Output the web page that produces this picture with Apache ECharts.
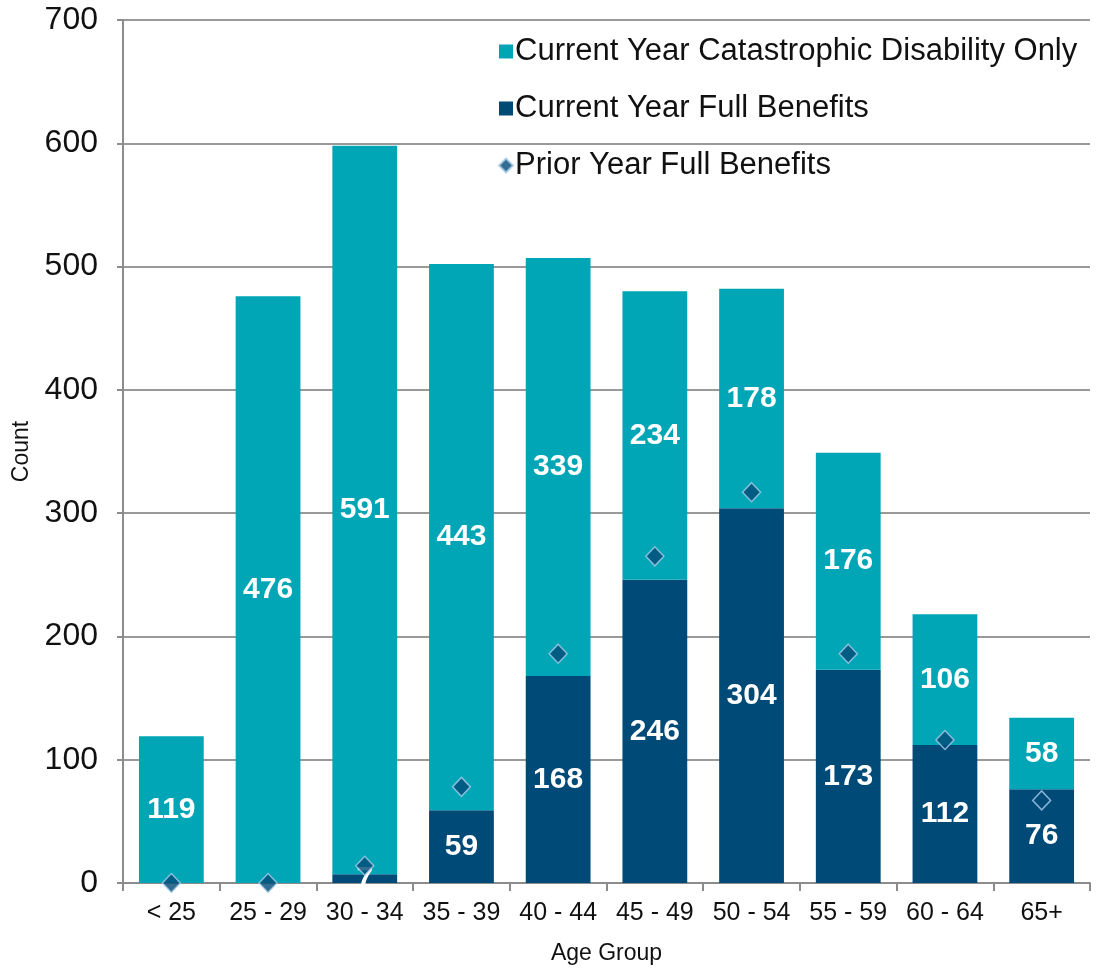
<!DOCTYPE html>
<html>
<head>
<meta charset="utf-8">
<script src="https://cdn.jsdelivr.net/npm/echarts@6/dist/echarts.min.js"></script>
<style>
  html, body { margin: 0; padding: 0; background: #fff; }
  #chart { width: 1099px; height: 970px; }
</style>
</head>
<body>
<div id="chart"></div>
<script>
// Age groups along the x axis
const ageGroups = ['< 25', '25 - 29', '30 - 34', '35 - 39', '40 - 44', '45 - 49', '50 - 54', '55 - 59', '60 - 64', '65+'];
// Current year counts, split by benefit type (stacked)
const fullBenefits = [0, 0, 7, 59, 168, 246, 304, 173, 112, 76];
const catastrophicOnly = [119, 476, 591, 443, 339, 234, 178, 176, 106, 58];
// Prior year full-benefit counts (diamond markers)
const priorFullBenefits = [0, 0, 14, 78, 186, 265, 317, 186, 116, 67];
// Y axis range
const yTicks = { min: 0, max: 700, interval: 100 };

const TEAL = '#00A6B6';
const NAVY = '#004A77';
const FONT = 'Liberation Sans, Arial, sans-serif';

const chart = echarts.init(document.getElementById('chart'), null, { renderer: 'canvas' });

const valueLabel = {
  show: true,
  position: 'inside',
  color: '#fff',
  fontFamily: FONT,
  fontWeight: 'bold',
  fontSize: 30,
  formatter: p => (p.value === 0 ? '' : String(p.value))
};

chart.setOption({
  animation: false,
  textStyle: { fontFamily: FONT },
  grid: { left: 123, right: 9, top: 20, bottom: 87, containLabel: false },
  legend: {
    orient: 'vertical',
    left: 493,
    top: 31,
    itemGap: 26,
    itemWidth: 14,
    itemHeight: 14,
    textStyle: { fontSize: 31, color: '#111', fontFamily: FONT, padding: [0, 0, 0, -3] },
    data: [
      { name: 'Current Year Catastrophic Disability Only', icon: 'rect' },
      { name: 'Current Year Full Benefits', icon: 'rect' },
      { name: 'Prior Year Full Benefits', icon: 'diamond' }
    ]
  },
  xAxis: {
    type: 'category',
    data: ageGroups,
    name: 'Age Group',
    nameLocation: 'middle',
    nameGap: 59,
    nameTextStyle: { fontSize: 23, color: '#111', fontFamily: FONT },
    axisLine: { lineStyle: { color: '#8c8c8c', width: 2 } },
    axisTick: { show: true, alignWithLabel: false, length: 8, lineStyle: { color: '#8c8c8c', width: 2 } },
    axisLabel: { fontSize: 25, color: '#111', margin: 18, fontFamily: FONT, interval: 0 }
  },
  yAxis: {
    type: 'value',
    min: yTicks.min,
    max: yTicks.max,
    interval: yTicks.interval,
    name: 'Count',
    nameLocation: 'middle',
    nameGap: 90,
    nameTextStyle: { fontSize: 23, color: '#111', fontFamily: FONT },
    axisLine: { show: true, lineStyle: { color: '#8c8c8c', width: 2 } },
    axisTick: { show: true, length: 6, lineStyle: { color: '#8c8c8c', width: 2 } },
    axisLabel: { fontSize: 32, color: '#111', margin: 25, fontFamily: FONT },
    splitLine: { show: true, lineStyle: { color: '#999', width: 2 } }
  },
  series: [
    {
      name: 'Current Year Full Benefits',
      type: 'bar',
      stack: 'current',
      data: fullBenefits,
      barCategoryGap: '33%',
      itemStyle: { color: NAVY },
      label: valueLabel,
      z: 2
    },
    {
      name: 'Current Year Catastrophic Disability Only',
      type: 'bar',
      stack: 'current',
      data: catastrophicOnly,
      barCategoryGap: '33%',
      itemStyle: { color: TEAL },
      label: valueLabel,
      z: 2
    },
    {
      name: 'Prior Year Full Benefits',
      type: 'scatter',
      data: priorFullBenefits,
      symbol: 'diamond',
      symbolSize: [18, 19],
      itemStyle: { color: NAVY, borderColor: '#A8CDEB', borderWidth: 1.5 },
      z: 5
    }
  ]
});
</script>
</body>
</html>
